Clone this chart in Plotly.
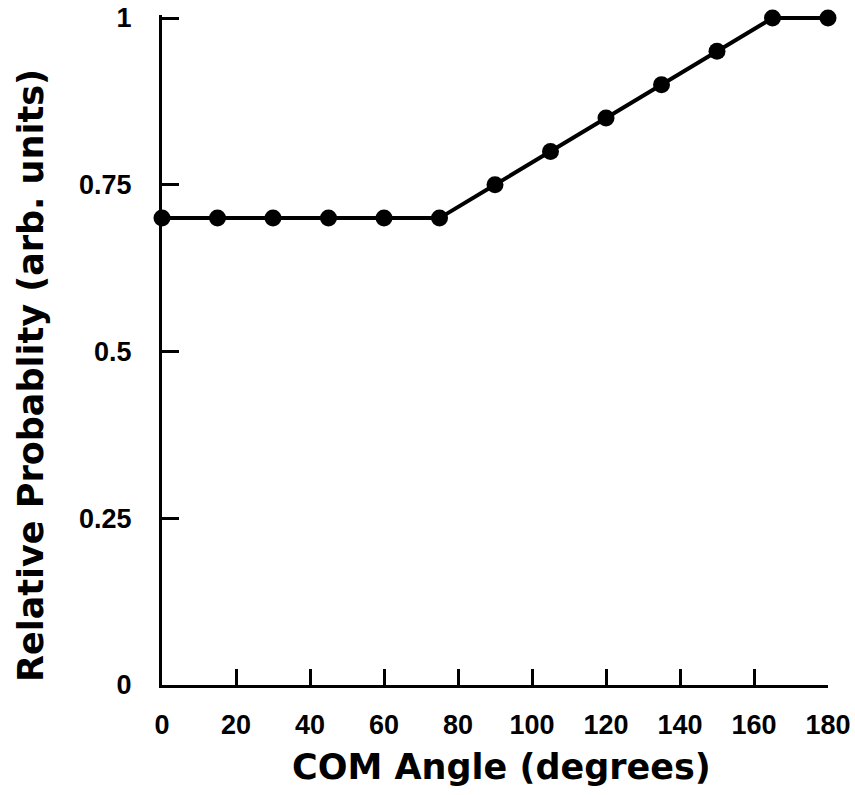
import plotly.graph_objects as go

angle = [0, 15, 30, 45, 60, 75, 90, 105, 120, 135, 150, 165, 180]
prob = [0.7, 0.7, 0.7, 0.7, 0.7, 0.7, 0.75, 0.8, 0.85, 0.9, 0.95, 1.0, 1.0]
x_ticks = [0, 20, 40, 60, 80, 100, 120, 140, 160, 180]
y_ticks = [0, 0.25, 0.5, 0.75, 1]
y_tick_text = ["0", "0.25", "0.5", "0.75", "1"]
x_title = "COM Angle (degrees)"
y_title = "Relative Probablity (arb. units)"

tick_font = dict(size=27, family="Liberation Sans, Arial, sans-serif", weight="bold", color="black")
title_font = dict(family="DejaVu Sans, sans-serif", weight="bold", color="black")

fig = go.Figure()
fig.add_trace(go.Scatter(
    x=angle, y=prob, mode="lines+markers",
    line=dict(color="black", width=4),
    marker=dict(color="black", size=17),
    cliponaxis=False, showlegend=False,
))

# small headroom so the line at y=1 is not clipped; 1 stays at the same pixel
top_margin = 15
plot_h = 795 - top_margin - 110
y_top = plot_h / 667.0

fig.update_layout(
    width=855, height=795,
    margin=dict(l=162, r=27, t=top_margin, b=110, autoexpand=False),
    paper_bgcolor="white", plot_bgcolor="white",
    font=dict(family="Liberation Sans, Arial, sans-serif", color="black"),
    annotations=[
        dict(text=x_title, xref="paper", yref="paper", x=0.5105, y=0,
             xanchor="center", yanchor="middle", yshift=-82, showarrow=False,
             font=dict(size=35, **title_font)),
        dict(text=y_title, xref="paper", yref="paper", x=0, y=(685 - 376) / plot_h,
             xanchor="center", yanchor="middle", xshift=-131, textangle=-90,
             showarrow=False, font=dict(size=35, **title_font)),
    ],
)
fig.update_xaxes(
    range=[0, 180], tickvals=x_ticks, ticks="inside", ticklen=16, tickwidth=3,
    tickcolor="black", showline=True, linecolor="black", linewidth=3,
    showgrid=False, zeroline=False, automargin=False,
    tickfont=tick_font, ticklabelstandoff=14,
)
fig.update_yaxes(
    range=[0, y_top], tickvals=y_ticks, ticktext=y_tick_text, ticks="inside", ticklen=17, tickwidth=3,
    tickcolor="black", showline=True, linecolor="black", linewidth=3,
    showgrid=False, zeroline=False, automargin=False,
    tickfont=tick_font, ticklabelstandoff=22,
)

fig.write_html("out.html")
